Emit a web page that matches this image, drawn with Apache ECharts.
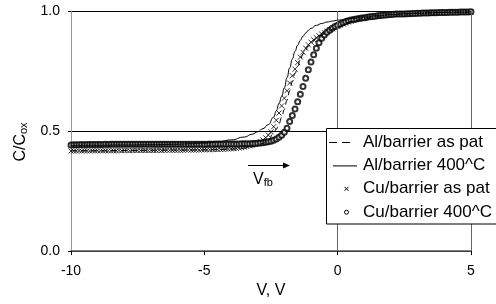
<!DOCTYPE html>
<html><head><meta charset="utf-8">
<script src="https://cdn.jsdelivr.net/npm/echarts@6/dist/echarts.min.js"></script>
<style>html,body{margin:0;padding:0;background:#fff}#c{width:496px;height:304px}</style>
</head><body><div id="c"></div>
<script>
// Measurement grid for the marker series (V)
const voltage = [
-10,-9.9,-9.8,-9.7,-9.6,-9.5,-9.4,-9.3,-9.2,-9.1,
-9,-8.9,-8.8,-8.7,-8.6,-8.5,-8.4,-8.3,-8.2,-8.1,
-8,-7.9,-7.8,-7.7,-7.6,-7.5,-7.4,-7.3,-7.2,-7.1,
-7,-6.9,-6.8,-6.7,-6.6,-6.5,-6.4,-6.3,-6.2,-6.1,
-6,-5.9,-5.8,-5.7,-5.6,-5.5,-5.4,-5.3,-5.2,-5.1,
-5,-4.9,-4.8,-4.7,-4.6,-4.5,-4.4,-4.3,-4.2,-4.1,
-4,-3.9,-3.8,-3.7,-3.6,-3.5,-3.4,-3.3,-3.2,-3.1,
-3,-2.9,-2.8,-2.7,-2.6,-2.5,-2.4,-2.3,-2.2,-2.1,
-2,-1.9,-1.8,-1.7,-1.6,-1.5,-1.4,-1.3,-1.2,-1.1,
-1,-0.9,-0.8,-0.7,-0.6,-0.5,-0.4,-0.3,-0.2,-0.1,
0,0.1,0.2,0.3,0.4,0.5,0.6,0.7,0.8,0.9,
1,1.1,1.2,1.3,1.4,1.5,1.6,1.7,1.8,1.9,
2,2.1,2.2,2.3,2.4,2.5,2.6,2.7,2.8,2.9,
3,3.1,3.2,3.3,3.4,3.5,3.6,3.7,3.8,3.9,
4,4.1,4.2,4.3,4.4,4.5,4.6,4.7,4.8,4.9,
5];
// Cu/barrier as pat (crosses)
const cuAsPat = [
0.417,0.417,0.417,0.418,0.417,0.418,0.418,0.417,0.418,0.418,
0.418,0.418,0.418,0.418,0.418,0.418,0.418,0.418,0.419,0.418,
0.419,0.419,0.418,0.419,0.419,0.419,0.419,0.419,0.419,0.419,
0.419,0.419,0.419,0.420,0.419,0.420,0.420,0.420,0.420,0.420,
0.420,0.420,0.420,0.421,0.421,0.421,0.421,0.421,0.421,0.422,
0.422,0.422,0.422,0.423,0.423,0.423,0.424,0.424,0.425,0.425,
0.426,0.427,0.428,0.429,0.431,0.433,0.435,0.438,0.441,0.445,
0.450,0.456,0.463,0.472,0.483,0.497,0.518,0.545,0.575,0.605,
0.637,0.668,0.700,0.730,0.758,0.785,0.808,0.828,0.845,0.859,
0.870,0.880,0.889,0.897,0.904,0.910,0.916,0.921,0.926,0.931,
0.936,0.941,0.946,0.950,0.954,0.958,0.961,0.964,0.967,0.969,
0.971,0.973,0.975,0.977,0.978,0.979,0.981,0.982,0.983,0.984,
0.985,0.986,0.986,0.987,0.988,0.988,0.989,0.989,0.990,0.990,
0.991,0.991,0.991,0.992,0.992,0.992,0.993,0.993,0.993,0.994,
0.994,0.994,0.994,0.995,0.995,0.995,0.995,0.996,0.996,0.996,
0.996];
// Cu/barrier 400^C (circles)
const cu400 = [
0.442,0.443,0.443,0.443,0.444,0.443,0.444,0.444,0.444,0.444,
0.444,0.444,0.444,0.445,0.444,0.445,0.445,0.445,0.445,0.445,
0.445,0.445,0.445,0.445,0.445,0.445,0.445,0.445,0.445,0.445,
0.445,0.445,0.445,0.445,0.445,0.445,0.445,0.445,0.445,0.445,
0.445,0.445,0.445,0.445,0.445,0.445,0.445,0.445,0.445,0.445,
0.445,0.445,0.446,0.445,0.446,0.446,0.446,0.446,0.446,0.446,
0.446,0.446,0.446,0.446,0.447,0.447,0.447,0.447,0.448,0.448,
0.449,0.450,0.451,0.453,0.455,0.458,0.462,0.467,0.474,0.483,
0.495,0.512,0.540,0.565,0.592,0.622,0.653,0.686,0.720,0.755,
0.788,0.818,0.845,0.868,0.886,0.900,0.911,0.920,0.928,0.935,
0.941,0.946,0.951,0.955,0.959,0.962,0.965,0.967,0.969,0.971,
0.972,0.974,0.976,0.977,0.978,0.980,0.981,0.982,0.983,0.984,
0.985,0.986,0.987,0.987,0.988,0.988,0.989,0.989,0.990,0.990,
0.991,0.991,0.992,0.992,0.992,0.993,0.993,0.993,0.994,0.994,
0.994,0.994,0.995,0.995,0.995,0.995,0.996,0.996,0.996,0.996,
0.997];
// Grid for the line series (V)
const lineVoltage = [-10,-9,-8,-7,-6,-5.5,-5,-4.5,-4,-3.5,-3.2,-3,-2.8,-2.6,-2.4,-2.3,-2.2,-2.1,-2,-1.9,-1.8,-1.7,-1.6,-1.5,-1.4,-1.3,-1.2,-1.1,-1,-0.8,-0.6,-0.4,-0.2,0,0.5,1,1.5,2,2.5,3,3.5,4,4.5,5];
// Al/barrier as pat (dashed)
const alAsPat = [0.418,0.418,0.419,0.420,0.421,0.421,0.422,0.423,0.425,0.429,0.434,0.440,0.449,0.465,0.490,0.508,0.530,0.557,0.590,0.628,0.668,0.705,0.740,0.770,0.797,0.820,0.838,0.853,0.866,0.885,0.900,0.912,0.923,0.933,0.955,0.970,0.979,0.985,0.988,0.991,0.993,0.994,0.995,0.996];
// Al/barrier 400^C (solid)
const al400 = [0.440,0.441,0.442,0.443,0.445,0.447,0.450,0.455,0.463,0.475,0.487,0.497,0.510,0.527,0.558,0.585,0.615,0.645,0.680,0.722,0.763,0.800,0.832,0.858,0.878,0.895,0.908,0.919,0.928,0.940,0.948,0.954,0.958,0.962,0.969,0.975,0.980,0.985,0.988,0.990,0.992,0.994,0.995,0.996];

const seriesNames = ['Al/barrier as pat', 'Al/barrier 400^C', 'Cu/barrier as pat', 'Cu/barrier 400^C'];
const xTicks = [-10, -5, 0, 5];
const yTicks = [0, 0.5, 1];
const refLinesX = [0, 5];

const FONT = '"Liberation Sans", Arial, sans-serif';
const zip = (xs, ys) => xs.map((x, i) => [x, ys[i]]);
const crossPath = 'path://M0,0L10,10M10,0L0,10';

const chart = echarts.init(document.getElementById('c'), null, {renderer: 'canvas'});
const legendTop = 128.5, legendLeft = 326.5, rowGap = 23.4;
const legendY = i => 142 + i * rowGap;

chart.setOption({
  animation: false,
  backgroundColor: '#fff',
  grid: {left: 71, right: 25, top: 11, bottom: 44},
  xAxis: {
    type: 'value', min: xTicks[0], max: xTicks[xTicks.length - 1], interval: 5,
    axisLine: {onZero: false, lineStyle: {color: '#555', width: 1.5}},
    axisTick: {show: true, length: 4, inside: false, lineStyle: {color: '#000'}},
    splitLine: {show: false},
    axisLabel: {color: '#000', fontSize: 14, fontFamily: FONT, margin: 13},
    name: 'V, V', nameLocation: 'middle', nameGap: 24,
    nameTextStyle: {color: '#000', fontSize: 16, fontFamily: FONT}
  },
  yAxis: {
    type: 'value', min: yTicks[0], max: yTicks[yTicks.length - 1], interval: 0.5,
    axisLine: {show: true, onZero: false, lineStyle: {color: '#999', width: 1}},
    axisTick: {show: true, length: 3, lineStyle: {color: '#000'}},
    splitLine: {show: true, lineStyle: {color: '#000', width: 1}},
    axisLabel: {color: '#000', fontSize: 14, fontFamily: FONT, margin: 11,
      formatter: v => v.toFixed(1)}
  },
  series: [
    {
      name: seriesNames[2], type: 'scatter', data: zip(voltage, cuAsPat),
      symbol: crossPath, symbolSize: 5,
      itemStyle: {color: 'none', borderColor: '#000', borderWidth: 1},
      markLine: {
        silent: true, symbol: 'none', label: {show: false},
        lineStyle: {color: '#666', width: 1, type: 'solid'},
        data: refLinesX.map(v => ({xAxis: v}))
      },
      z: 2
    },
    {
      name: seriesNames[3], type: 'scatter', data: zip(voltage, cu400),
      symbol: 'emptyCircle', symbolSize: 5,
      itemStyle: {color: '#000', borderColor: '#000', borderWidth: 0.9},
      z: 3
    },
    {
      name: seriesNames[0], type: 'line', data: zip(lineVoltage, alAsPat),
      showSymbol: false, symbol: 'none', smooth: true, smoothMonotone: 'x',
      lineStyle: {color: '#000', width: 1, type: [6, 4]}, z: 4
    },
    {
      name: seriesNames[1], type: 'line', data: zip(lineVoltage, al400),
      showSymbol: false, symbol: 'none', smooth: true, smoothMonotone: 'x',
      lineStyle: {color: '#000', width: 1, type: 'solid'}, z: 4
    }
  ],
  graphic: [
    // Y axis title
    {
      type: 'text', x: 21, y: 142, rotation: Math.PI / 2, z: 10,
      style: {
        text: '{a|C/C}{b|ox}', align: 'center', verticalAlign: 'middle',
        rich: {
          a: {fontSize: 16, fontFamily: FONT, fill: '#000', lineHeight: 16, verticalAlign: 'top'},
          b: {fontSize: 11, fontFamily: FONT, fill: '#000', lineHeight: 11, verticalAlign: 'bottom'}
        }
      }
    },
    // V_fb annotation arrow
    {type: 'line', z: 10, shape: {x1: 248, y1: 165.5, x2: 284, y2: 165.5}, style: {stroke: '#000', lineWidth: 1}},
    {type: 'polygon', z: 10, shape: {points: [[283, 162.5], [290, 165.5], [283, 168.5]]}, style: {fill: '#000'}},
    {
      type: 'text', x: 253, y: 180, z: 10,
      style: {
        text: '{a|V}{b|fb}', align: 'left', verticalAlign: 'middle',
        rich: {
          a: {fontSize: 16, fontFamily: FONT, fill: '#000', lineHeight: 16, verticalAlign: 'top'},
          b: {fontSize: 11, fontFamily: FONT, fill: '#000', lineHeight: 11, verticalAlign: 'bottom'}
        }
      }
    },
    // Legend box
    {type: 'rect', z: 20, shape: {x: legendLeft, y: legendTop, width: 180, height: 95.5},
      style: {fill: '#fff', stroke: '#000', lineWidth: 1}},
    {type: 'line', z: 21, shape: {x1: 329, y1: legendY(0) + 0.5, x2: 350, y2: legendY(0) + 0.5},
      style: {stroke: '#000', lineWidth: 1, lineDash: [8, 5]}},
    {type: 'line', z: 21, shape: {x1: 333, y1: legendY(1) + 0.5, x2: 357, y2: legendY(1) + 0.5},
      style: {stroke: '#000', lineWidth: 1}},
    {type: 'line', z: 21, shape: {x1: 344.5, y1: legendY(2) - 2, x2: 348.5, y2: legendY(2) + 2}, style: {stroke: '#000', lineWidth: 1}},
    {type: 'line', z: 21, shape: {x1: 348.5, y1: legendY(2) - 2, x2: 344.5, y2: legendY(2) + 2}, style: {stroke: '#000', lineWidth: 1}},
    {type: 'circle', z: 21, shape: {cx: 346.5, cy: legendY(3), r: 2}, style: {fill: '#fff', stroke: '#000', lineWidth: 1}}
  ].concat(seriesNames.map((n, i) => ({
    type: 'text', z: 21, x: 363, y: legendY(i),
    style: {text: n, fontSize: 17, fontFamily: FONT, fill: '#000', align: 'left', verticalAlign: 'middle'}
  })))
});
</script>
</body></html>
